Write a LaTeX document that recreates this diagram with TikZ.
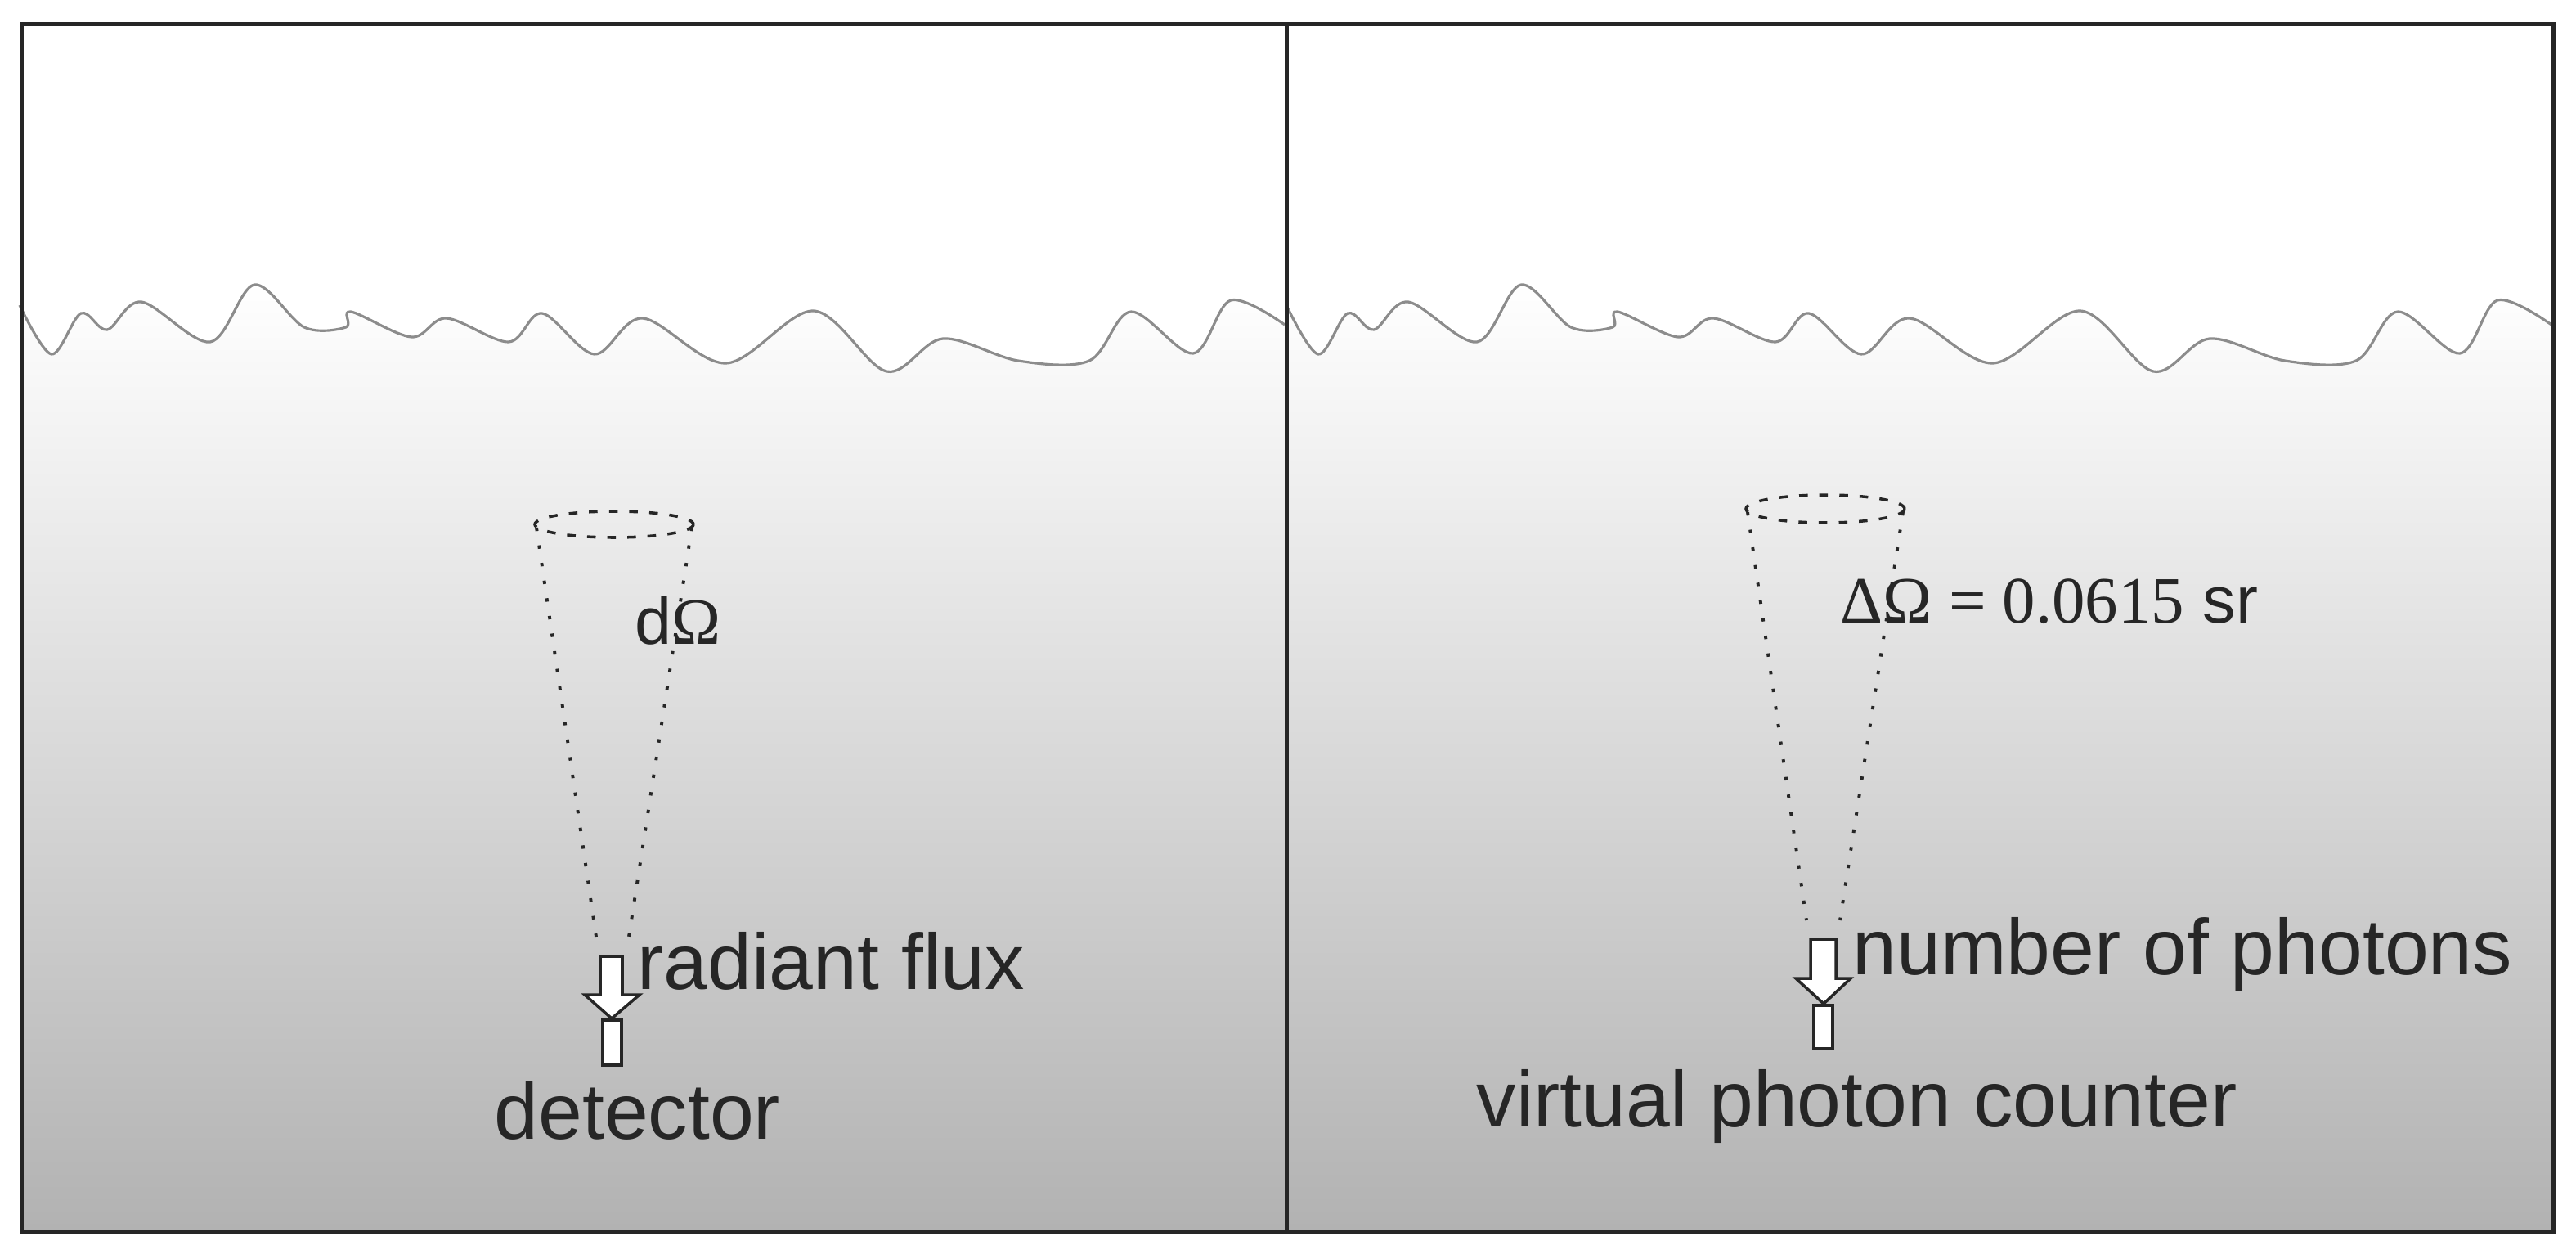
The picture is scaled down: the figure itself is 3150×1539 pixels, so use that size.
\documentclass[tikz,border=0pt]{standalone}
\usepackage{fontspec}
\setmainfont{Liberation Sans}
\newfontfamily\timesf{Liberation Serif}
\begin{document}
\begin{tikzpicture}[x=0.01cm,y=-0.01cm,
  lbl/.style={inner sep=0,anchor=base west,font=\fontsize{27.5}{30}\selectfont,text=black!85},
  sym/.style={inner sep=0,anchor=base west,font=\fontsize{23}{26}\selectfont,text=black!85},
  frame/.style={draw=black!85,line width=1.4pt},
  wave/.style={draw=black!45,line width=0.9pt},
  cone/.style={draw=black!85,line width=1.1pt,dash pattern=on 1.2pt off 5pt},
  rim/.style={draw=black!85,line width=1pt,dash pattern=on 3pt off 4pt},
  white arrow/.style={draw=black!85,fill=white,line width=1pt}]
\useasboundingbox (0,0) rectangle (3150,1539);
\fill[white] (0,0) rectangle (3150,1539);
\def\wavepts{(24,373) (63,433) (99,383) (131,403) (173,369) (257,418) (311,348) (372,400) (423,400) (429,381) (503,412) (546,389) (622,418) (663,383) (727,433) (786,389) (888,444) (995,380) (1084,454) (1153,414) (1245,441) (1332,441) (1383,381) (1459,432) (1505,367) (1571,397)}
\foreach \dx/\nm in {0/L,1549/R}{
  \begin{scope}[xshift=\dx*0.01cm]
  \shade[top color=white,bottom color={rgb,255:red,178;green,178;blue,178}]
    plot[smooth,tension=0.55] coordinates {\wavepts} -- (1571,1503) -- (24,1503) -- cycle;
  \draw[wave] plot[smooth,tension=0.55] coordinates {\wavepts};
  \end{scope}
}
\node[frame,draw,inner sep=0,minimum width=1547*0.01cm,minimum height=1476*0.01cm,anchor=north west] (pl) at (24,27) {};
\node[frame,draw,inner sep=0,minimum width=1549*0.01cm,minimum height=1476*0.01cm,anchor=north west] (pr) at (1571,27) {};
% left cone
\coordinate (la) at (729,1145); \coordinate (lb) at (769,1145);
\draw[rim] (751,641) ellipse (97 and 16);
\draw[cone] (656,645) -- (la);
\draw[cone] (846,645) -- (lb);
\draw[white arrow] (734,1169) -- (761,1169) -- (761,1216) -- (782,1216) -- (748,1245) -- (715,1216) -- (734,1216) -- cycle;
\draw[white arrow] (737,1247) rectangle (760,1302);
\node[sym] (dO) at (776,787) {d{\timesf Ω}};
\node[lbl] (rf) at (779,1209) {radiant flux};
\node[lbl] (det) at (604,1392) {detector};
% right cone
\coordinate (ra) at (2209,1125); \coordinate (rb) at (2250,1125);
\draw[rim] (2232,622) ellipse (97 and 17);
\draw[cone] (2137,626) -- (ra);
\draw[cone] (2327,626) -- (rb);
\draw[white arrow] (2214,1148) -- (2245,1148) -- (2245,1196) -- (2263,1196) -- (2230,1227) -- (2196,1196) -- (2214,1196) -- cycle;
\draw[white arrow] (2218,1229) rectangle (2241,1282);
\node[sym] (DO) at (2250,761) {{\timesf ΔΩ = 0.0615} sr};
\node[lbl] (np) at (2265,1191) {number of photons};
\node[lbl] (vpc) at (1805,1377) {virtual photon counter};
\end{tikzpicture}
\end{document}
